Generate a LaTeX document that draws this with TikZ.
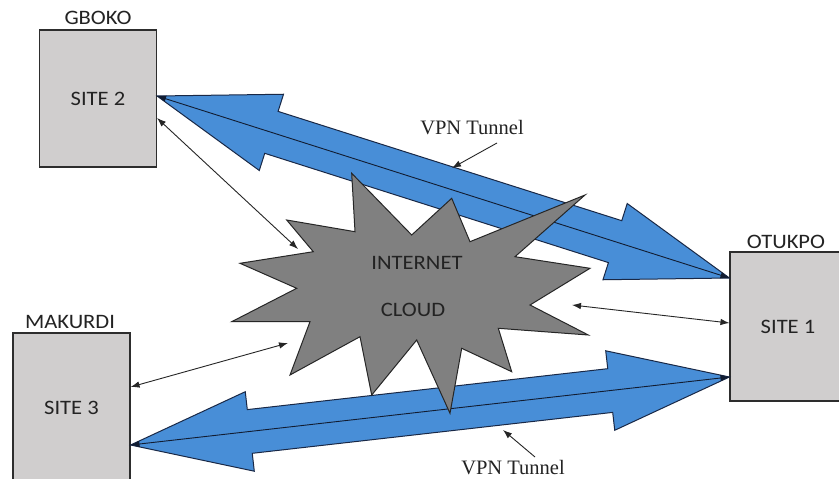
\documentclass[tikz,border=0pt]{standalone}
\usepackage{fontspec}
\usetikzlibrary{calc,arrows.meta}
\newfontfamily\calib[FakeStretch=1.1]{Carlito}
\newfontfamily\tnr{Liberation Serif}
\definecolor{vpnblue}{RGB}{72,142,215}
\definecolor{vpnedge}{RGB}{25,40,70}
\definecolor{boxfill}{RGB}{208,206,206}
\definecolor{boxedge}{RGB}{45,45,45}
\definecolor{cloudgray}{RGB}{128,128,128}
\definecolor{txt}{RGB}{35,35,35}
\tikzset{
  sitebox/.style={draw=boxedge, fill=boxfill, line width=1.1pt, inner sep=0pt,
    font=\calib\fontsize{20.5}{24}\selectfont, text=txt},
  sitelabel/.style={inner sep=0pt, font=\calib\fontsize{20.5}{24}\selectfont, text=txt},
  vpnlabel/.style={inner sep=0pt, font=\tnr\fontsize{20.5}{24}\selectfont, text=txt},
  blockfill/.style={fill=vpnblue, draw=vpnedge, line width=1pt, line join=miter},
  thin2/.style={draw=black!85, line width=0.9pt, {Latex[length=9pt,width=6.5pt]}-{Latex[length=9pt,width=6.5pt]}},
  thin1/.style={draw=black!85, line width=0.9pt, -{Latex[length=9pt,width=6.5pt]}},
}
% head length 120, head half-width 40, shaft half-width 22
\newcommand\blockarrow[2]{%
  \path[blockfill] (#1)
   -- ($(#1)!126.49pt!18.435:(#2)$)
   -- ($(#1)!122.00pt!10.389:(#2)$)
   -- ($(#2)!122.00pt!-10.389:(#1)$)
   -- ($(#2)!126.49pt!-18.435:(#1)$)
   -- (#2)
   -- ($(#2)!126.49pt!18.435:(#1)$)
   -- ($(#2)!122.00pt!10.389:(#1)$)
   -- ($(#1)!122.00pt!-10.389:(#2)$)
   -- ($(#1)!126.49pt!-18.435:(#2)$)
   -- cycle;
  \draw[thin2, draw=vpnedge!70!black] (#1) -- (#2);}
\begin{document}
\begin{tikzpicture}[x=1pt,y=-1pt]
\useasboundingbox (0,0) rectangle (839,479);
\fill[white] (0,0) rectangle (839,479);
% site boxes
\node[sitebox, minimum width=117pt, minimum height=137pt] (s2) at (98,98.5) {SITE 2};
\node[sitebox, minimum width=116pt, minimum height=149pt] (s1) at (788,326.5) {SITE 1};
\node[sitebox, minimum width=117pt, minimum height=150pt] (s3) at (71.5,408) {SITE 3};
% site names
\node[sitelabel] (n2) at (98,18) {GBOKO};
\node[sitelabel] (n1) at (786,242) {OTUKPO};
\node[sitelabel] (n3) at (70,322) {MAKURDI};
% tunnel end points
\coordinate (ta) at (s2.east |- 0,96);
\coordinate (tb) at (s1.west |- 0,278);
\coordinate (ba) at (s3.east |- 0,445);
\coordinate (bb) at (s1.west |- 0,377);
\blockarrow{ta}{tb}
\blockarrow{ba}{bb}
% internet cloud
\path[fill=cloudgray, draw=black!85, line width=1pt, line join=miter]
 (351.7,173.3) -- (411.7,235) -- (451.7,198.3) -- (470,241.7) -- (585,195)
 -- (515,256.7) -- (590,268.3) -- (530,305) -- (588.3,335) -- (498.3,328.3)
 -- (511.7,371.7) -- (461.7,348.3) -- (450,413.3) -- (416.7,340) -- (371.7,395)
 -- (360,336.7) -- (290,375) -- (310,321.7) -- (231.7,321.7) -- (296.7,288.3)
 -- (240,263.3) -- (313.3,251.7) -- (286.7,220) -- (355,231.7) -- cycle;
\node[sitelabel] (c1) at (417,263) {INTERNET};
\node[sitelabel] (c2) at (413,310) {CLOUD};
% links to the cloud
\coordinate (k2) at (298,249);
\coordinate (k3) at (288,343);
\coordinate (k1) at (572,305);
\draw[thin2] (s2.east |- 0,118) -- (k2);
\draw[thin2] (s3.east |- 0,387) -- (k3);
\draw[thin2] (s1.west |- 0,323) -- (k1);
% VPN labels
\node[vpnlabel] (v1) at (472,128) {VPN Tunnel};
\node[vpnlabel] (v2) at (513,468) {VPN Tunnel};
\coordinate (p1) at (452,168);
\coordinate (p2) at (503,430);
\draw[thin1] (497,143) -- (p1);
\draw[thin1] (535,457) -- (p2);
\end{tikzpicture}
\end{document}
